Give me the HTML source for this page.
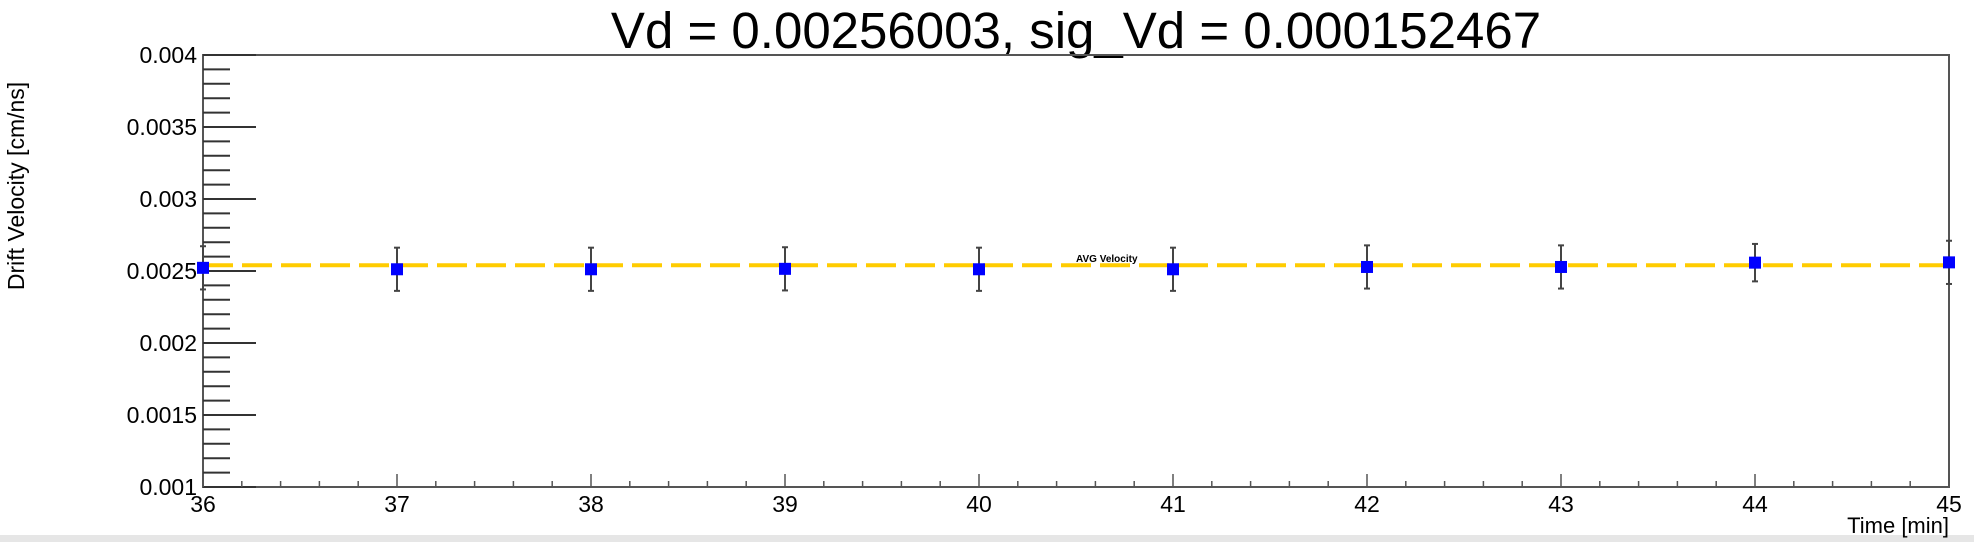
<!DOCTYPE html>
<html><head><meta charset="utf-8"><style>
html,body{margin:0;padding:0;background:#fff;}
svg{display:block;font-family:"Liberation Sans",sans-serif;}
</style></head><body>
<svg id="chart" width="1974" height="542">
<rect x="0" y="535" width="1974" height="7" fill="#e6e6e6"/>
<text x="1076" y="48" font-size="51" text-anchor="middle" fill="#000">Vd = 0.00256003, sig_Vd = 0.000152467</text>
<text transform="translate(24,186) rotate(-90)" font-size="23" text-anchor="middle">Drift Velocity [cm/ns]</text>
<text x="1949" y="533" font-size="22" text-anchor="end">Time [min]</text>
<g id="axes"></g><g id="marks"></g>
</svg>
<script>
const xTicks=[36,37,38,39,40,41,42,43,44,45];
const yTicks=[0.001,0.0015,0.002,0.0025,0.003,0.0035,0.004];
const yTickLabels=["0.001","0.0015","0.002","0.0025","0.003","0.0035","0.004"];
const times=[36,37,38,39,40,41,42,43,44,45];
const velocities=[0.002522,0.002512,0.002512,0.002515,0.002512,0.002512,0.002528,0.002528,0.002558,0.002560];
const errors=[0.00015,0.00015,0.00015,0.00015,0.00015,0.00015,0.00015,0.00015,0.00013,0.00015];
const avgVelocity=[0.00254];
const L=203,R=1949,T=55,B=487,X0=36,X1=45,Y0=0.001,Y1=0.004;
const sx=v=>L+(v-X0)/(X1-X0)*(R-L);
const sy=v=>B-(v-Y0)/(Y1-Y0)*(B-T);
const NS="http://www.w3.org/2000/svg";
function mk(t,a,p){const e=document.createElementNS(NS,t);for(const k in a)e.setAttribute(k,a[k]);p.appendChild(e);return e;}
const ax=document.getElementById('axes'),mg=document.getElementById('marks');
const fr=mk('rect',{x:L,y:T,width:R-L,height:B-T,fill:'none',stroke:'#555','stroke-width':2},ax);


for(let v=Y0;v<=Y1+1e-9;v+=0.0001){const y=sy(v);const major=Math.abs(Math.round(v*2000)-v*2000)<1e-6;
const t=mk('line',{x1:L,x2:L+(major?53:27),y1:y,y2:y,stroke:'#333','stroke-width':2},ax);

}
yTicks.forEach((v,i)=>{const t=mk('text',{x:L-6,y:sy(v)+8,'font-size':23,'text-anchor':'end'},ax);t.textContent=yTickLabels[i];

});
for(let v=X0;v<=X1+1e-9;v+=0.2){const x=sx(v);const major=Math.abs(v-Math.round(v))<1e-6;
const t=mk('line',{x1:x,x2:x,y1:B,y2:B-(major?13:6),stroke:'#555','stroke-width':1.5},ax);

}
xTicks.forEach(v=>{const t=mk('text',{x:sx(v),y:512,'font-size':23,'text-anchor':'middle'},ax);t.textContent=v;

});
const ay=sy(avgVelocity[0]);
const al=mk('line',{x1:L,x2:R,y1:ay,y2:ay,stroke:'#ffcc00','stroke-width':4,'stroke-dasharray':'30 9'},mg);


const at=mk('text',{x:1076,y:ay-3,'font-size':10,'font-weight':'bold'},mg);at.textContent='AVG Velocity';


times.forEach((t,i)=>{const x=sx(t),y=sy(velocities[i]),yt=sy(velocities[i]+errors[i]),yb=sy(velocities[i]-errors[i]);
const g=mk('g',{},mg);


mk('line',{x1:x,x2:x,y1:yt,y2:yb,stroke:'#444','stroke-width':2},g);
mk('line',{x1:x-3,x2:x+3,y1:yt,y2:yt,stroke:'#444','stroke-width':2},g);
mk('line',{x1:x-3,x2:x+3,y1:yb,y2:yb,stroke:'#444','stroke-width':2},g);
mk('rect',{x:x-6,y:y-6,width:12,height:12,fill:'#0000ff'},g);});
</script>
</body></html>
